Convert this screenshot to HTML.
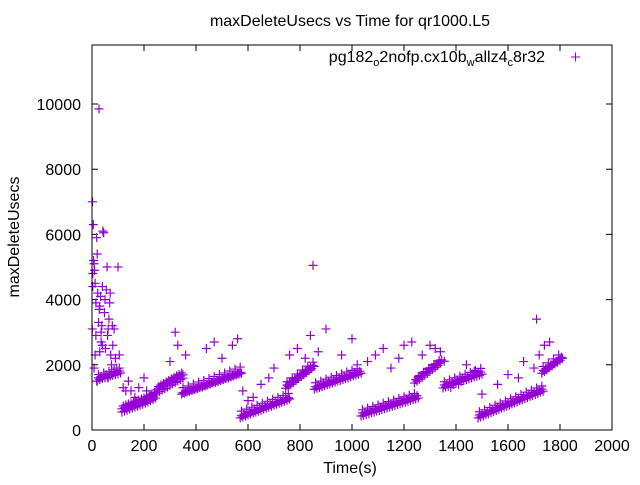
<!DOCTYPE html>
<html><head><meta charset="utf-8"><style>
body{margin:0;background:#fff;}
svg text{font-family:"Liberation Sans",sans-serif;fill:#000;}
</style></head><body>
<svg id="chart" width="640" height="480" xmlns="http://www.w3.org/2000/svg">
<rect x="0" y="0" width="640" height="480" fill="#fff"/>
<text x="350" y="26" font-size="16" text-anchor="middle">maxDeleteUsecs vs Time for qr1000.L5</text>
<text transform="translate(19,237) rotate(-90)" font-size="16" text-anchor="middle">maxDeleteUsecs</text>
<text x="350" y="473" font-size="16" text-anchor="middle">Time(s)</text>
<g id="ticks"></g>
<g id="points"></g>
<rect x="92" y="45" width="520" height="385" fill="none" stroke="#000" stroke-width="1"/>
<g>
<text x="545" y="62" font-size="16" text-anchor="end">pg182<tspan font-size="11" dy="4">o</tspan><tspan dy="-4">2nofp.cx10b</tspan><tspan font-size="11" dy="4">w</tspan><tspan dy="-4">allz4</tspan><tspan font-size="11" dy="4">c</tspan><tspan dy="-4">8r32</tspan></text>
<path d="M571 57h9M575.5 52.5v9" stroke="#9400d3" stroke-width="1"/>
</g>
</svg>
<script>
const xTicks=[0,200,400,600,800,1000,1200,1400,1600,1800,2000];
const yTicks=[0,2000,4000,6000,8000,10000];
const times=[2,5,8,3,10,12,15,18,20,22,25,28,30,33,35,38,40,42,45,48,50,52,55,58,60,62,65,68,70,72,75,78,80,85,90,95,100,105,8,12,3,1,6,40,62,30,18,27,15,35,
20,30,40,50,60,70,80,90,100,110,25,45,65,85,105,
115,125,135,145,155,165,175,185,195,205,215,225,235,245,120,130,140,150,160,170,180,190,200,210,220,230,240,
250,260,270,280,290,300,310,320,330,340,350,255,265,275,285,295,305,315,325,335,345,
345,355,365,375,385,395,405,415,425,435,445,455,465,475,485,495,505,515,525,535,545,555,565,575,350,370,390,410,430,450,470,490,510,530,550,570,
570,580,590,600,610,620,630,640,650,660,670,680,690,700,710,720,730,740,750,760,575,595,615,635,655,675,695,715,735,755,
745,755,765,775,785,795,805,815,825,835,845,855,750,770,790,810,830,850,
855,865,875,885,895,905,915,925,935,945,955,965,975,985,995,1005,1015,1025,1035,860,880,900,920,940,960,980,1000,1020,
1035,1045,1055,1065,1075,1085,1095,1105,1115,1125,1135,1145,1155,1165,1175,1185,1195,1205,1215,1225,1235,1245,1255,1040,1060,1080,1100,1120,1140,1160,1180,1200,1220,1240,
1240,1250,1260,1270,1280,1290,1300,1310,1320,1330,1340,1355,1255,1275,1295,1315,1335,
1350,1360,1370,1380,1390,1400,1410,1420,1430,1440,1450,1460,1470,1480,1490,1500,1355,1375,1395,1415,1435,1455,1475,1495,
1485,1495,1505,1515,1525,1535,1545,1555,1565,1575,1585,1595,1605,1615,1625,1635,1645,1655,1665,1675,1685,1695,1705,1715,1725,1735,1490,1510,1530,1550,1570,1590,1610,1630,1650,1670,1690,1710,1730,
1730,1740,1750,1760,1770,1780,1790,1800,1810,1735,1755,1775,1795,
120,140,150,165,180,200,210,130,320,330,300,360,440,470,500,540,560,580,600,620,650,680,700,760,790,820,840,850,870,900,960,1000,1020,1060,1090,1120,1150,1180,1200,1230,1270,1300,1320,1340,1380,1410,1440,1470,1500,1560,1600,1640,1660,1700,1710,1720,1740,1760,
115,125,135,145,155,165,175,185,195,205,215,225,235,245,
250,260,270,280,290,300,310,320,330,340,350,
350,360,370,380,390,400,410,420,430,440,450,460,470,480,490,500,510,520,530,540,550,560,570,
575,585,595,605,615,625,635,645,655,665,675,685,695,705,715,725,735,745,755,
750,760,770,780,790,800,810,820,830,840,850,
860,870,880,890,900,910,920,930,940,950,960,970,980,990,1000,1010,1020,1030,
1040,1050,1060,1070,1080,1090,1100,1110,1120,1130,1140,1150,1160,1170,1180,1190,1200,1210,1220,1230,1240,1250,
1245,1255,1265,1275,1285,1295,1305,1315,1325,1335,1345,
1355,1365,1375,1385,1395,1405,1415,1425,1435,1445,1455,1465,1475,1485,1495,
1490,1500,1510,1520,1530,1540,1550,1560,1570,1580,1590,1600,1610,1620,1630,1640,1650,1660,1670,1680,1690,1700,1710,1720,1730,
1735,1745,1755,1765,1775,1785,1795,1805,
25,35,45,55,65,75,85,95,105];
const values=[7000,6300,5100,4800,4900,4500,3900,5900,5400,4200,3300,3700,3800,4100,2700,3200,4400,6100,6050,3600,4000,2500,4300,5000,2900,3100,3400,3900,4200,2300,2000,3200,2600,3100,2200,1900,5000,2300,1900,2300,4400,3100,5200,2600,1600,2400,1500,9850,2900,3000,
1500,1550,1580,1600,1630,1650,1680,1700,1720,1750,1700,1750,1800,1850,1900,
550,580,610,640,670,700,730,760,790,820,860,900,940,980,740,770,800,830,860,890,920,950,980,1020,1060,1100,1150,
1130,1180,1230,1270,1320,1370,1410,1460,1500,1550,1590,1330,1380,1430,1470,1520,1570,1610,1660,1700,1750,
1100,1130,1160,1190,1210,1240,1270,1300,1320,1350,1380,1410,1440,1460,1490,1520,1550,1580,1600,1630,1660,1690,1710,1740,1300,1350,1410,1470,1520,1580,1640,1700,1750,1810,1870,1930,
370,400,430,460,490,520,550,580,610,640,670,700,730,760,790,820,850,880,910,950,580,640,700,760,820,880,940,1000,1060,1120,
1280,1340,1400,1460,1520,1580,1640,1700,1760,1820,1880,1950,1480,1600,1720,1840,1960,2080,
1250,1280,1300,1330,1360,1390,1410,1440,1470,1500,1520,1550,1580,1600,1630,1660,1690,1710,1740,1450,1500,1560,1620,1670,1720,1780,1830,1880,
430,450,480,500,530,550,580,600,630,650,680,700,730,750,780,800,830,850,880,900,930,950,980,620,670,720,770,820,870,920,970,1020,1070,1120,
1440,1500,1560,1620,1680,1740,1800,1860,1920,1980,2050,2110,1650,1770,1890,2010,2130,
1290,1320,1340,1370,1400,1430,1460,1490,1510,1540,1570,1600,1630,1650,1680,1710,1480,1540,1600,1650,1710,1770,1830,1890,
370,400,430,470,500,530,570,600,630,670,700,730,760,800,830,860,900,930,960,990,1030,1060,1090,1120,1160,1190,560,620,690,760,820,890,960,1020,1090,1160,1220,1290,1350,
1740,1800,1850,1910,1970,2030,2080,2140,2200,1950,2060,2180,2300,
1300,1500,1200,1000,1300,1600,1200,1200,3000,2600,2100,2300,2500,2700,2200,2600,2800,1200,900,1000,1400,1600,1900,2300,2500,2200,2900,5050,2400,3100,2300,2800,2000,2100,2300,2500,1900,2200,2600,2700,2300,2600,2500,2400,1300,1400,2000,1800,1100,1400,1700,1600,2100,1900,3400,2300,2600,2700,
650,680,710,740,770,800,830,860,890,920,960,1000,1040,1080,
1230,1280,1330,1370,1420,1470,1510,1560,1600,1650,1690,
1150,1180,1210,1240,1260,1290,1320,1350,1370,1400,1430,1460,1490,1510,1540,1570,1600,1630,1650,1680,1710,1740,1770,
450,480,510,540,570,600,630,660,690,720,750,780,810,840,870,900,930,960,990,
1380,1440,1500,1560,1620,1680,1740,1800,1860,1920,1980,
1330,1360,1380,1410,1440,1470,1490,1520,1550,1580,1600,1630,1660,1680,1710,1740,1770,1800,
520,540,570,590,620,640,670,690,720,740,770,790,820,840,870,890,920,940,970,990,1020,1050,
1550,1610,1670,1730,1790,1850,1910,1970,2030,2090,2150,
1380,1410,1440,1470,1490,1520,1550,1580,1610,1640,1660,1690,1720,1750,1780,
460,490,520,560,590,620,660,690,720,760,790,820,860,890,920,950,990,1020,1050,1090,1120,1150,1180,1220,1250,
1830,1880,1940,2000,2050,2110,2170,2230,
1600,1640,1660,1690,1710,1740,1760,1790,1810];
const x=t=>92+t*520/2000;
const y=v=>430-v*385/11810;
const NS="http://www.w3.org/2000/svg";
const tg=document.getElementById('ticks');
xTicks.forEach(t=>{
  const p=document.createElementNS(NS,'path');
  p.setAttribute('d',`M${x(t)} 430v-6M${x(t)} 45v6`);p.setAttribute('stroke','#000');
  
  
  tg.appendChild(p);
  const tx=document.createElementNS(NS,'text');
  tx.setAttribute('x',x(t));tx.setAttribute('y',451);tx.setAttribute('font-size','16');tx.setAttribute('text-anchor','middle');
  tx.textContent=t;
  
  
  tg.appendChild(tx);
});
yTicks.forEach(v=>{
  const p=document.createElementNS(NS,'path');
  p.setAttribute('d',`M92 ${y(v)}h6M612 ${y(v)}h-6`);p.setAttribute('stroke','#000');
  
  
  tg.appendChild(p);
  const tx=document.createElementNS(NS,'text');
  tx.setAttribute('x',81);tx.setAttribute('y',y(v)+6);tx.setAttribute('font-size','16');tx.setAttribute('text-anchor','end');
  tx.textContent=v;
  
  
  tg.appendChild(tx);
});
const pg=document.getElementById('points');
let d='';
for(let i=0;i<times.length&&i<values.length;i++){
  const px=x(times[i]),py=y(values[i]);
  d+=`M${px-4.5} ${py}h9M${px} ${py-4.5}v9`;
}
const pts=document.createElementNS(NS,'path');
pts.setAttribute('d',d);pts.setAttribute('stroke','#9400d3');pts.setAttribute('stroke-width','1.2');pts.setAttribute('fill','none');


pg.appendChild(pts);
</script>
</body></html>
